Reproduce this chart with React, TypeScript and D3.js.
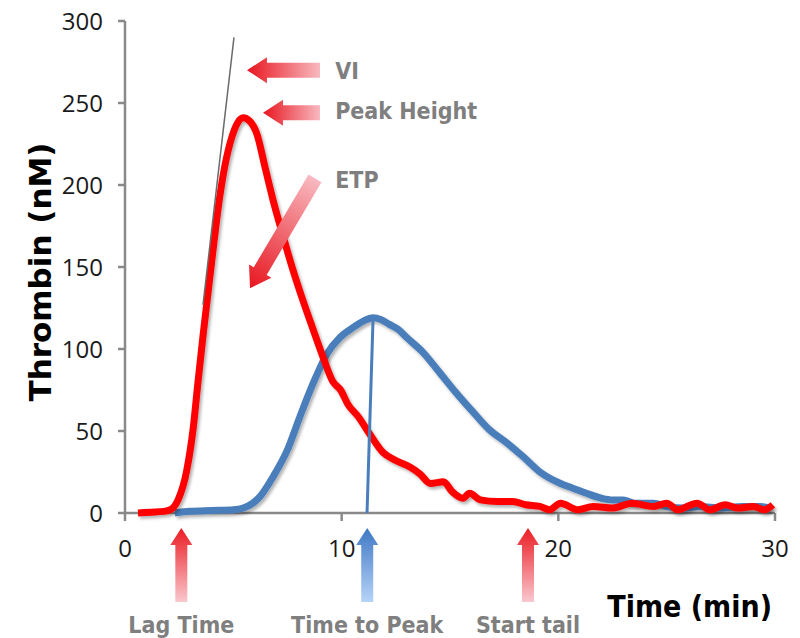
import React from "react";
import * as d3 from "d3";

// thrombin generation curves
const redTime = [0.6, 1.2, 1.8, 2.1, 2.45, 2.85, 3.15, 3.37, 3.6, 3.83, 4.06, 4.3, 4.6, 4.95, 5.2, 5.45, 5.75, 6.09, 6.46, 6.83, 7.25, 7.71, 8.1, 8.68, 9.14, 9.6, 9.95, 10.3, 10.75, 11.3, 11.9, 12.5, 13.15, 13.6, 14.1, 14.7, 15.1, 15.6, 15.9, 16.4, 17.2, 17.9, 18.5, 19.15, 19.6, 20.1, 20.9, 21.6, 22.5, 23.4, 24.4, 25.0, 25.5, 26.4, 27.0, 27.7, 28.3, 29.0, 29.5, 29.9];
const redValue = [0, 0.5, 1, 2, 8, 26, 52, 80, 108, 134, 160, 186, 211, 230, 238, 241, 239, 231, 211, 191, 171, 150, 134, 112, 95, 80, 75, 66, 59, 48, 37, 32, 28, 24, 18, 19, 13, 9, 12, 8, 7, 7, 5, 4, 2, 6, 2, 4, 3, 6, 4, 6, 2, 6, 2, 5, 3, 4, 2, 5];

const blueTime = [2.3, 3.0, 4.0, 5.0, 5.45, 5.9, 6.23, 6.83, 7.48, 8.08, 8.68, 9.32, 9.92, 10.52, 11.0, 11.45, 11.8, 12.2, 12.6, 13.0, 13.75, 14.5, 15.3, 16.1, 16.8, 17.6, 18.4, 19.15, 20.1, 20.7, 21.3, 22.0, 22.5, 23.0, 23.5, 24.4, 25.0, 25.8, 26.5, 27.5, 28.5, 29.3, 29.8];
const blueValue = [0, 1, 1.5, 2, 3, 6, 10, 22, 38, 59, 79, 97, 107, 113, 117, 119, 118, 115, 112, 107, 98, 86, 73, 61, 51, 43, 34, 25, 18, 15, 12, 9, 8, 8, 6, 6, 4, 3, 4, 3, 4, 4, 3];

const xTicks = [0, 10, 20, 30];
const yTicks = [0, 50, 100, 150, 200, 250, 300];

// velocity index tangent and time-to-peak marker
const tangentTime = [3.6, 5.03];
const tangentValue = [127, 290];
const peakLineTime = [11.17, 11.45];
const peakLineValue = [0, 119];

// annotations
const sideLabels = ["VI", "Peak Height", "ETP"];
const sideFrom = [[9.0, 270], [9.0, 244], [8.77, 204]];
const sideTo = [[5.63, 270], [6.37, 244], [5.77, 137]];
const bottomLabels = ["Lag Time", "Time to Peak", "Start tail"];
const bottomTimes = [2.6, 11.18, 18.6];
const bottomColors = ["red", "blue", "red"];

const W = 800;
const H = 638;

function arrowPath(x1, y1, x2, y2, bw, hw, hl) {
  const dx = x2 - x1, dy = y2 - y1;
  const len = Math.sqrt(dx * dx + dy * dy);
  const ux = dx / len, uy = dy / len;
  const nx = -uy, ny = ux;
  const bx = x2 - ux * hl, by = y2 - uy * hl;
  const pts = [
    [x1 + nx * bw, y1 + ny * bw],
    [bx + nx * bw, by + ny * bw],
    [bx + nx * hw, by + ny * hw],
    [x2, y2],
    [bx - nx * hw, by - ny * hw],
    [bx - nx * bw, by - ny * bw],
    [x1 - nx * bw, y1 - ny * bw],
  ];
  return "M" + pts.map((p) => p.join(",")).join("L") + "Z";
}

export default function App() {
  const x = d3.scaleLinear().domain([0, 30]).range([125, 775]);
  const y = d3.scaleLinear().domain([0, 300]).range([513, 21]);

  const line = d3
    .line()
    .x((d) => x(d[0]))
    .y((d) => y(d[1]))
    .curve(d3.curveMonotoneX);

  const red = redTime.map((t, i) => [t, redValue[i]]);
  const blue = blueTime.map((t, i) => [t, blueValue[i]]);

  const axisColor = "#898989";
  const labelFont = "'DejaVu Sans Condensed', 'DejaVu Sans', sans-serif";

  return (
    <svg
      width={W}
      height={H}
      style={{ position: "absolute", left: 0, top: 0, background: "#fff" }}
    >
      <defs>
        <filter id="shadow" x="-5%" y="-5%" width="110%" height="115%">
          <feDropShadow dx="2" dy="2.5" stdDeviation="1.5" floodColor="#000" floodOpacity="0.3" />
        </filter>
        {sideLabels.map((l, i) => (
          <linearGradient
            key={l}
            id={"side" + i}
            gradientUnits="userSpaceOnUse"
            x1={x(sideFrom[i][0])}
            y1={y(sideFrom[i][1])}
            x2={x(sideTo[i][0])}
            y2={y(sideTo[i][1])}
          >
            <stop offset="0" stopColor="#f8b9c0" />
            <stop offset="1" stopColor="#e8161f" />
          </linearGradient>
        ))}
        <linearGradient id="upred" x1="0" y1="1" x2="0" y2="0">
          <stop offset="0" stopColor="#f9c8ce" />
          <stop offset="1" stopColor="#eb1c24" />
        </linearGradient>
        <linearGradient id="upblue" x1="0" y1="1" x2="0" y2="0">
          <stop offset="0" stopColor="#b6d3f7" />
          <stop offset="1" stopColor="#3f78c4" />
        </linearGradient>
      </defs>

      {/* axes */}
      <line x1={x(0)} x2={x(30)} y1={y(0)} y2={y(0)} stroke={axisColor} strokeWidth={2.5} />
      <line x1={x(0)} x2={x(0)} y1={y(0)} y2={y(300)} stroke={axisColor} strokeWidth={2.5} />
      {yTicks.map((t) => (
        <g key={"y" + t}>
          <line x1={x(0) - 7} x2={x(0)} y1={y(t)} y2={y(t)} stroke={axisColor} strokeWidth={2.5} />
          <text
            x={103}
            y={y(t)}
            dy="0.36em"
            textAnchor="end"
            fontFamily="'Open Sans', sans-serif"
            fontSize={24}
            fill="#1a1a1a"
          >
            {t}
          </text>
        </g>
      ))}
      {xTicks.map((t) => (
        <g key={"x" + t}>
          <line x1={x(t)} x2={x(t)} y1={y(0)} y2={y(0) + 8} stroke={axisColor} strokeWidth={2.5} />
          <text
            x={x(t)}
            y={557}
            textAnchor="middle"
            fontFamily="'Open Sans', sans-serif"
            fontSize={24}
            fill="#1a1a1a"
          >
            {t}
          </text>
        </g>
      ))}

      {/* curves */}
      <path d={line(blue)} fill="none" stroke="#4a7ebb" strokeWidth={7} strokeLinejoin="round" filter="url(#shadow)" />
      <path d={line(red)} fill="none" stroke="#ff0000" strokeWidth={7} strokeLinejoin="round" filter="url(#shadow)" />
      <line
        x1={x(tangentTime[0])}
        y1={y(tangentValue[0])}
        x2={x(tangentTime[1])}
        y2={y(tangentValue[1])}
        stroke="#6a6a6a"
        strokeWidth={1.5}
      />
      <line
        x1={x(peakLineTime[0])}
        y1={y(peakLineValue[0])}
        x2={x(peakLineTime[1])}
        y2={y(peakLineValue[1])}
        stroke="#4a7ebb"
        strokeWidth={3}
      />

      {/* side annotations */}
      {sideLabels.map((l, i) => {
        const x1 = x(sideFrom[i][0]), y1 = y(sideFrom[i][1]);
        const x2 = x(sideTo[i][0]), y2 = y(sideTo[i][1]);
        return (
          <g key={l}>
            <path d={arrowPath(x1, y1, x2, y2, 7.5, 13, 20)} fill={`url(#side${i})`} />
            <text
              x={x(9.7)}
              y={y1 + (i === 1 ? -2 : 1)}
              dy="0.36em"
              fontFamily={labelFont}
              fontStretch="condensed"
              fontWeight="bold"
              fontSize={23}
              fill="#7f7f7f"
            >
              {l}
            </text>
          </g>
        );
      })}

      {/* bottom annotations */}
      {bottomLabels.map((l, i) => {
        const cx = x(bottomTimes[i]);
        return (
          <g key={l}>
            <path
              d={arrowPath(cx, 602, cx, 528, 6, 11, 17)}
              fill={bottomColors[i] === "red" ? "url(#upred)" : "url(#upblue)"}
            />
            <text
              x={cx}
              y={633}
              textAnchor="middle"
              fontFamily={labelFont}
              fontStretch="condensed"
              fontWeight="bold"
              fontSize={23}
              fill="#7f7f7f"
            >
              {l}
            </text>
          </g>
        );
      })}

      {/* axis titles */}
      <text
        x={772}
        y={617}
        textAnchor="end"
        fontFamily={labelFont}
        fontStretch="condensed"
        fontWeight="bold"
        fontSize={30}
        fill="#000"
      >
        Time (min)
      </text>
      <text
        transform={`translate(51, ${272}) rotate(-90)`}
        textAnchor="middle"
        fontFamily="'DejaVu Sans', sans-serif"
        fontWeight="bold"
        fontSize={31}
        fill="#000"
      >
        Thrombin (nM)
      </text>
    </svg>
  );
}
